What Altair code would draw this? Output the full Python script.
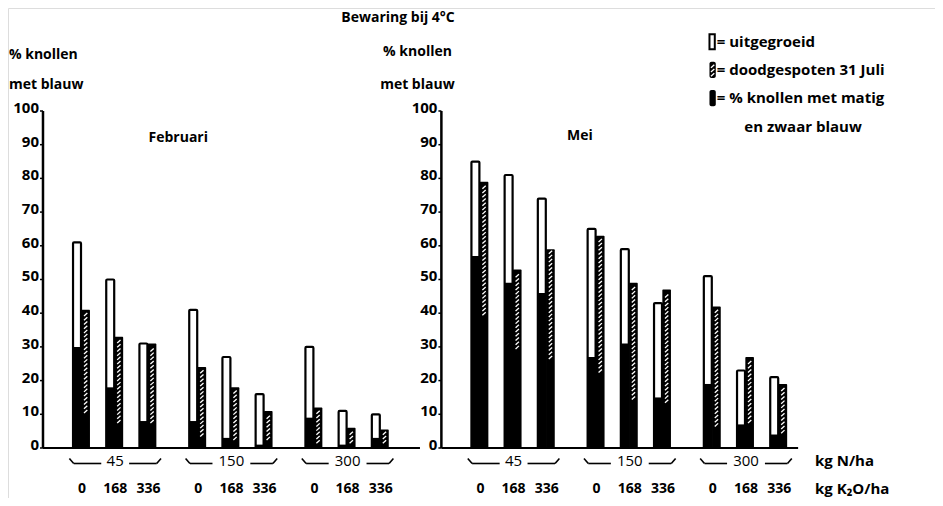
import altair as alt
import numpy as np
import pandas as pd

# ---------------- data ----------------
months = ["Februari", "Mei"]
n_levels = ["45", "150", "300"]
k_levels = ["0", "168", "336"]

feb_uitgegroeid = [61, 50, 31, 41, 27, 16, 30, 11, 10]
feb_uitgegroeid_blauw = [30, 18, 8, 8, 3, 1, 9, 1, 3]
feb_doodgespoten = [41, 33, 31, 24, 18, 11, 12, 6, 5.5]
feb_doodgespoten_blauw = [10, 7, 7, 3, 2, 2, 1, 1, 1]

mei_uitgegroeid = [85, 81, 74, 65, 59, 43, 51, 23, 21]
mei_uitgegroeid_blauw = [57, 49, 46, 27, 31, 15, 19, 7, 4]
mei_doodgespoten = [79, 53, 59, 63, 49, 47, 42, 27, 19]
mei_doodgespoten_blauw = [39, 29, 26, 22, 14, 13, 6, 7, 4]

y_ticks = [0, 10, 20, 30, 40, 50, 60, 70, 80, 90, 100]

legend_labels = ["= uitgegroeid", "= doodgespoten 31 Juli", "= % knollen met matig", "en zwaar blauw"]

title_text = "Bewaring bij 4°C"
y_title = ["% knollen", "met blauw"]
n_unit = "kg N/ha"
k_unit = "kg K₂O/ha"

FONT = "Open Sans"

# ---------------- build tables ----------------
series = {
    0: (feb_uitgegroeid, feb_uitgegroeid_blauw, feb_doodgespoten, feb_doodgespoten_blauw),
    1: (mei_uitgegroeid, mei_uitgegroeid_blauw, mei_doodgespoten, mei_doodgespoten_blauw),
}
PANEL = 12.0
GROUP = 3.5
rows = []
for p, month in enumerate(months):
    uit, uit_b, dood, dood_b = series[p]
    for i in range(9):
        n, k = divmod(i, 3)
        slot = p * PANEL + n * GROUP + k
        rows.append(dict(month=month, N=n_levels[n], K=k_levels[k], slot=slot,
                         w1=slot - 0.27, w2=slot - 0.03, h1=slot - 0.02, h2=slot + 0.24,
                         hx=slot + 0.11, zero=0.0,
                         uit=uit[i], uit_b=uit_b[i], dood=dood[i], dood_b=dood_b[i]))
bars = pd.DataFrame(rows)

# texture of the hatched bars: short white slashes between the black part and the top
STEP = 1.25
hatch_rows = []
for r in rows:
    for v in np.arange(r["dood_b"] + 0.4, r["dood"] - 1.3, STEP):
        hatch_rows.append(dict(xa=r["hx"] - 0.05, xb=r["hx"] + 0.05, ya=v, yb=v + 0.9))
hatch = pd.DataFrame(hatch_rows)

axis_rows, tick_rows, base_rows = [], [], []
for p, month in enumerate(months):
    ax = p * PANEL - 1.175
    end = p * PANEL + (10.18 if p == 0 else 9.57)
    axis_rows.append(dict(x=ax, y1=0, y2=100))
    base_rows.append(dict(x1=ax, x2=end, y=0))
    for v in y_ticks:
        tick_rows.append(dict(x=ax, xt=ax - 0.09, y=v, label=str(v)))
axes_df = pd.DataFrame(axis_rows)
base_df = pd.DataFrame(base_rows)
ticks_df = pd.DataFrame(tick_rows)

# group braces + labels
K_ROW = -12.3
brace_rows, nlab_rows, klab_rows, diag_rows = [], [], [], []
for p in range(2):
    for n, lab in enumerate(n_levels):
        c = p * PANEL + n * GROUP + 1
        gap = 0.12 + 0.15 * len(lab)
        brace_rows.append(dict(x1=c - 1.25, x2=c - gap, y=-4.6))
        brace_rows.append(dict(x1=c + gap, x2=c + 1.25, y=-4.6))
        diag_rows.append(dict(x1=c - 1.25, x2=c - 1.38, y1=-4.6, y2=-3.1))
        diag_rows.append(dict(x1=c + 1.25, x2=c + 1.38, y1=-4.6, y2=-3.1))
        nlab_rows.append(dict(x=c, y=-4.0, text=lab))
        for k, kl in enumerate(k_levels):
            klab_rows.append(dict(x=c - 1 + k, y=K_ROW, text=kl))
brace_df = pd.DataFrame(brace_rows)
diag_df = pd.DataFrame(diag_rows)
nlab_df = pd.DataFrame(nlab_rows)
klab_df = pd.DataFrame(klab_rows)

center_txt = pd.DataFrame([
    dict(x=9.52, y=127.6, text=title_text),
    dict(x=2.9, y=92.0, text=months[0]),
    dict(x=15.0, y=92.5, text=months[1]),
])
left_txt = pd.DataFrame([
    dict(x=-2.2, y=116.6, text=y_title[0]),
    dict(x=-2.2, y=107.7, text=y_title[1]),
    dict(x=9.07, y=117.5, text=y_title[0]),
    dict(x=8.98, y=107.7, text=y_title[1]),
])
unit_txt = pd.DataFrame([
    dict(x=22.08, y=-4.0, text=n_unit),
    dict(x=22.08, y=K_ROW, text=k_unit),
])
leg_x = 18.9
leg_txt = pd.DataFrame([
    dict(x=leg_x + 0.22, y=120.5, text=legend_labels[0]),
    dict(x=leg_x + 0.22, y=112.2, text=legend_labels[1]),
    dict(x=leg_x + 0.22, y=103.9, text=legend_labels[2]),
    dict(x=leg_x + 1.05, y=95.3, text=legend_labels[3]),
])
leg_icons = pd.DataFrame([
    dict(kind="uit", x1=leg_x, x2=leg_x + 0.16, y1=118.3, y2=122.8),
    dict(kind="dood", x1=leg_x, x2=leg_x + 0.19, y1=109.8, y2=114.6),
    dict(kind="blauw", x1=leg_x, x2=leg_x + 0.19, y1=101.4, y2=106.2),
])
lg_hatch_rows = []
for r in leg_icons[leg_icons.kind == "dood"].itertuples():
    xc = (r.x1 + r.x2) / 2
    for v in np.arange(r.y1 + 0.5, r.y2 - 1.0, STEP):
        lg_hatch_rows.append(dict(xa=xc - 0.05, xb=xc + 0.05, ya=v, yb=v + 0.9))
lg_hatch_df = pd.DataFrame(lg_hatch_rows)

# ---------------- scales ----------------
xs = alt.Scale(domain=[-2.2289, 25.693], nice=False, zero=False)
ys = alt.Scale(domain=[-14.84, 130.56], nice=False, zero=False)


def X(f):
    return alt.X(f, type="quantitative", scale=xs, axis=None)


def Y(f):
    return alt.Y(f, type="quantitative", scale=ys, axis=None)


white_bar = alt.Chart(bars).mark_rect(fill="white", stroke="black", strokeWidth=2.2, cornerRadius=1).encode(
    x=X("w1"), x2="w2", y=Y("zero"), y2="uit")
white_black = alt.Chart(bars).mark_rect(fill="black").encode(
    x=X("w1"), x2="w2", y=Y("zero"), y2="uit_b")
dood_bar = alt.Chart(bars).mark_rect(fill="black", cornerRadius=1).encode(
    x=X("h1"), x2="h2", y=Y("zero"), y2="dood")
dood_hatch = alt.Chart(hatch).mark_rule(color="white", strokeWidth=1.3).encode(
    x=X("xa"), x2="xb", y=Y("ya"), y2="yb")

axis_lines = alt.Chart(axes_df).mark_rule(color="black", strokeWidth=2.5).encode(
    x=X("x"), y=Y("y1"), y2="y2")
base_lines = alt.Chart(base_df).mark_rule(color="black", strokeWidth=2).encode(
    x=X("x1"), x2="x2", y=Y("y"))
tick_marks = alt.Chart(ticks_df).mark_rule(color="black", strokeWidth=1.5).encode(
    x=X("xt"), x2="x", y=Y("y"))
tick_labels = alt.Chart(ticks_df).mark_text(align="right", baseline="middle", dx=-4, dy=-3,
                                            font=FONT, fontWeight="bold", fontSize=15).encode(
    x=X("x"), y=Y("y"), text="label:N")

brace_lines = alt.Chart(brace_df).mark_rule(color="black", strokeWidth=1.6).encode(
    x=X("x1"), x2="x2", y=Y("y"))
brace_ends = alt.Chart(diag_df).mark_rule(color="black", strokeWidth=1.6).encode(
    x=X("x1"), x2="x2", y=Y("y1"), y2="y2")
n_labels = alt.Chart(nlab_df).mark_text(align="center", baseline="middle", font=FONT,
                                        fontSize=15).encode(x=X("x"), y=Y("y"), text="text:N")
k_labels = alt.Chart(klab_df).mark_text(align="center", baseline="middle", font=FONT,
                                        fontWeight="bold", fontSize=14).encode(
    x=X("x"), y=Y("y"), text="text:N")

c_text = alt.Chart(center_txt).mark_text(align="center", baseline="middle", font=FONT,
                                         fontWeight="bold", fontSize=14).encode(
    x=X("x"), y=Y("y"), text="text:N")
l_text = alt.Chart(left_txt).mark_text(align="left", baseline="middle", font=FONT,
                                       fontWeight="bold", fontSize=14).encode(
    x=X("x"), y=Y("y"), text="text:N")
u_text = alt.Chart(unit_txt).mark_text(align="left", baseline="middle", font=FONT,
                                       fontWeight="bold", fontSize=15).encode(
    x=X("x"), y=Y("y"), text="text:N")
lg_text = alt.Chart(leg_txt).mark_text(align="left", baseline="middle", font=FONT,
                                       fontWeight="bold", fontSize=15).encode(
    x=X("x"), y=Y("y"), text="text:N")
lg_white = alt.Chart(leg_icons[leg_icons.kind == "uit"]).mark_rect(
    fill="white", stroke="black", strokeWidth=2).encode(x=X("x1"), x2="x2", y=Y("y1"), y2="y2")
lg_black = alt.Chart(leg_icons[leg_icons.kind != "uit"]).mark_rect(
    fill="black", cornerRadius=2).encode(x=X("x1"), x2="x2", y=Y("y1"), y2="y2")
lg_hatch = alt.Chart(lg_hatch_df).mark_rule(color="white", strokeWidth=1.3).encode(
    x=X("xa"), x2="xb", y=Y("ya"), y2="yb")

chart = alt.layer(
    white_bar, white_black, dood_bar, dood_hatch,
    base_lines, axis_lines, tick_marks, tick_labels,
    brace_lines, brace_ends, n_labels, k_labels,
    c_text, l_text, u_text, lg_text, lg_white, lg_black, lg_hatch,
).properties(
    width=927, height=490, autosize="none", padding=0,
).configure_view(stroke=None).configure(background="white")

chart.save("out.html", embed_options={"renderer": "svg", "actions": False})
